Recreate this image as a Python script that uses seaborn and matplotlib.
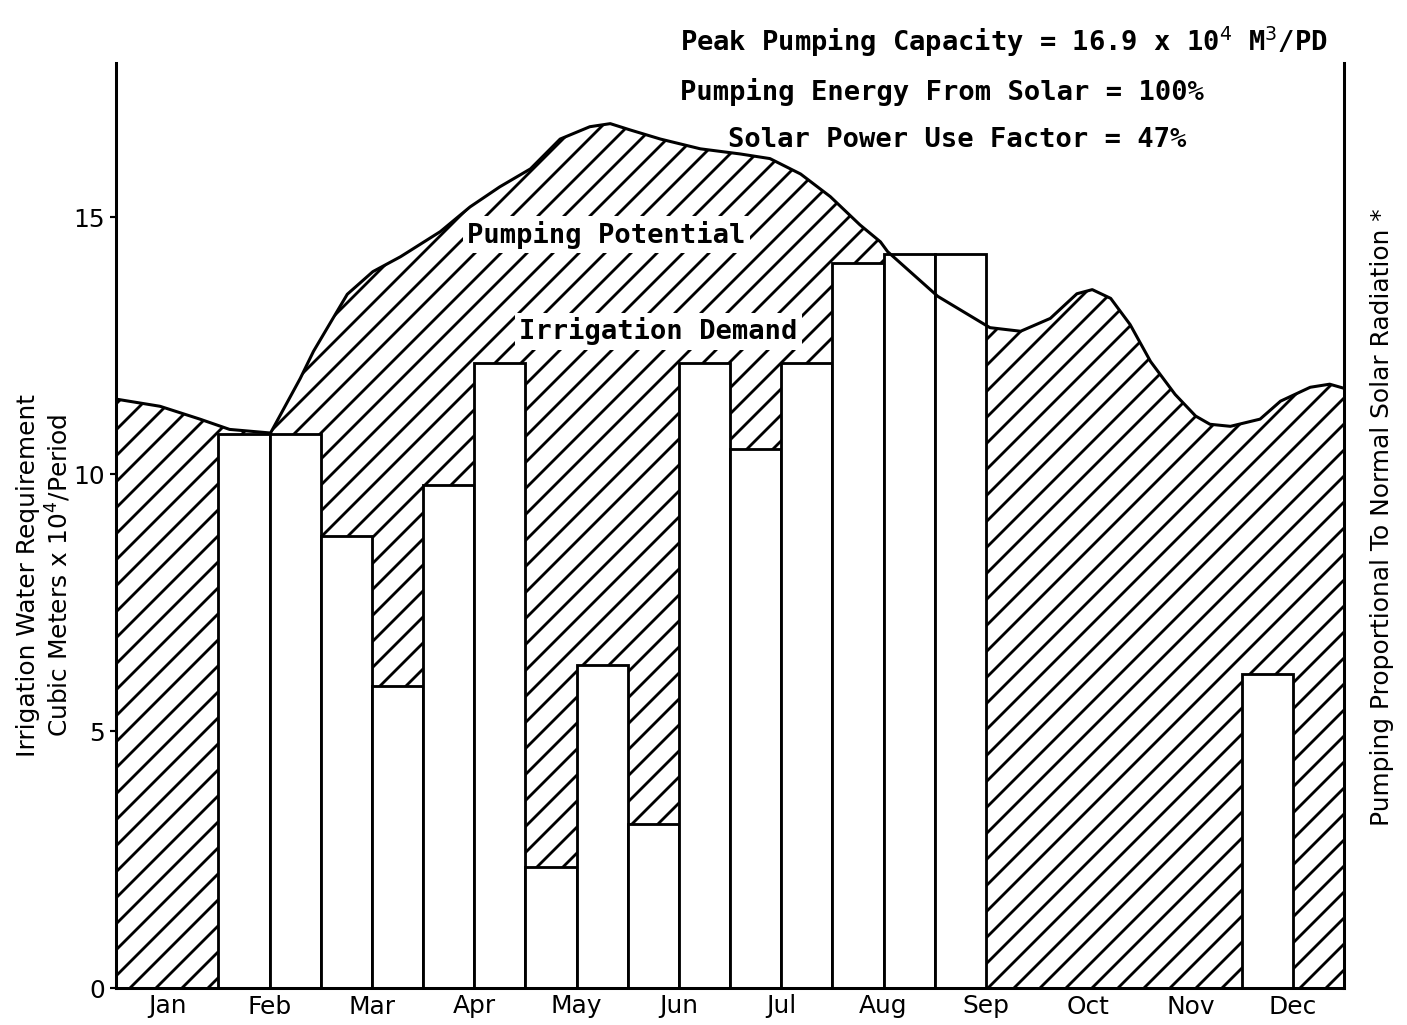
import matplotlib; matplotlib.use('Agg')
import matplotlib.pyplot as plt
import seaborn as sns
import pandas as pd

# ── data ────────────────────────────────────────────────
months = ['Jan','Feb','Mar','Apr','May','Jun','Jul','Aug','Sep','Oct','Nov','Dec']

# half-month periods (start, in months from Jan 1) with irrigation demand, 10^4 m3/period
period_start = [1.0, 1.5, 2.0, 2.5, 3.0, 3.5, 4.0, 4.5, 5.0, 5.5, 6.0, 6.5, 7.0, 7.5, 8.0, 11.0]
demand       = [10.78, 10.78, 8.80, 5.88, 9.79, 12.17, 2.35, 6.29, 3.20, 12.17, 10.49, 12.17,
                14.10, 14.29, 14.29, 6.12]

# pumping potential curve (proportional to normal solar radiation)
curve_x = [0.0, 0.43, 0.82, 1.11, 1.51, 1.80, 1.93, 2.12, 2.26, 2.51, 2.78, 3.17, 3.46, 3.75,
           4.05, 4.34, 4.63, 4.83, 5.02, 5.32, 5.71, 6.10, 6.39, 6.69, 6.98, 7.27, 7.47, 7.54,
           8.03, 8.54, 8.84, 9.13, 9.39, 9.54, 9.72, 9.91, 10.11, 10.35, 10.55, 10.69, 10.89,
           11.18, 11.38, 11.67, 11.86, 12.0]
curve_y = [11.46, 11.32, 11.07, 10.87, 10.80, 11.86, 12.39, 13.03, 13.50, 13.94, 14.23, 14.72,
           15.20, 15.59, 15.94, 16.52, 16.76, 16.82, 16.70, 16.52, 16.33, 16.23, 16.14, 15.84,
           15.40, 14.85, 14.52, 14.33, 13.46, 12.85, 12.78, 13.03, 13.51, 13.59, 13.42, 12.91,
           12.19, 11.55, 11.13, 10.97, 10.93, 11.07, 11.42, 11.69, 11.75, 11.67]

notes = ['Peak Pumping Capacity = 16.9 x 10$^4$ M$^3$/PD',
         'Pumping Energy From Solar = 100%',
         'Solar Power Use Factor = 47%']

# ── style ───────────────────────────────────────────────
sns.set_style('white')
plt.rcParams['font.family'] = ['DejaVu Sans']
plt.rcParams['text.color'] = 'black'
plt.rcParams['xtick.color'] = 'black'
plt.rcParams['ytick.color'] = 'black'
plt.rcParams['hatch.linewidth'] = 1.3
plt.rcParams['hatch.color'] = 'black'

DPI = 156
fig = plt.figure(figsize=(1407/DPI, 1025/DPI), dpi=DPI)
ax = fig.add_axes([116/1407, 1-988/1025, 1228/1407, 925/1025])

# hatched pumping potential
ax.fill_between(curve_x, 0, curve_y, facecolor='none', edgecolor='black',
                linewidth=0, hatch='//', zorder=1)

# white demand bars
df = pd.DataFrame({'x': [s + 0.25 for s in period_start], 'demand': demand})
sns.barplot(data=df, x='x', y='demand', native_scale=True, width=1.0, color='white',
            saturation=1, edgecolor='black', linewidth=1.3, errorbar=None, zorder=2, ax=ax)

sns.lineplot(x=curve_x, y=curve_y, sort=False, estimator=None, color='black',
             lw=1.4, zorder=3, ax=ax)

ax.set_xlim(0, 12)
ax.set_ylim(0, 18)
ax.set_xticks([i + 0.5 for i in range(12)])
ax.set_xticklabels(months, fontsize=11.5)
ax.set_yticks([0, 5, 10, 15])
ax.set_yticklabels(['0', '5', '10', '15'], fontsize=11.5)
ax.tick_params(axis='x', length=0, pad=3)
ax.tick_params(axis='y', length=3, width=1, direction='out', pad=2, left=True)
ax.set_xlabel(''); ax.set_ylabel('')

for s in ['left', 'right', 'bottom']:
    ax.spines[s].set_visible(True)
    ax.spines[s].set_linewidth(1.4)
    ax.spines[s].set_color('black')
ax.spines['top'].set_visible(False)

mono = dict(family='DejaVu Sans Mono', fontweight='bold', fontsize=12.5, color='black')
ax.text(5.51, 18.41, notes[0], va='center', ha='left', clip_on=False, **mono)
ax.text(5.51, 17.44, notes[1], va='center', ha='left', clip_on=False, **mono)
ax.text(5.98, 16.50, notes[2], va='center', ha='left', clip_on=False, **mono)

box = dict(facecolor='white', edgecolor='none', pad=2)
ax.text(4.79, 14.66, 'Pumping Potential', va='center', ha='center', bbox=box, zorder=4, **mono)
ax.text(5.30, 12.78, 'Irrigation Demand', va='center', ha='center', bbox=box, zorder=4, **mono)

ax.text(-0.058, 0.446, 'Irrigation Water Requirement\nCubic Meters x 10$^4$/Period',
        transform=ax.transAxes, rotation=90, va='center', ha='center', fontsize=11.5,
        linespacing=1.15)
ax.text(1.031, 0.509, 'Pumping Proportional To Normal Solar Radiation *',
        transform=ax.transAxes, rotation=90, va='center', ha='center', fontsize=11.5)

fig.savefig('out.png', dpi=DPI)
